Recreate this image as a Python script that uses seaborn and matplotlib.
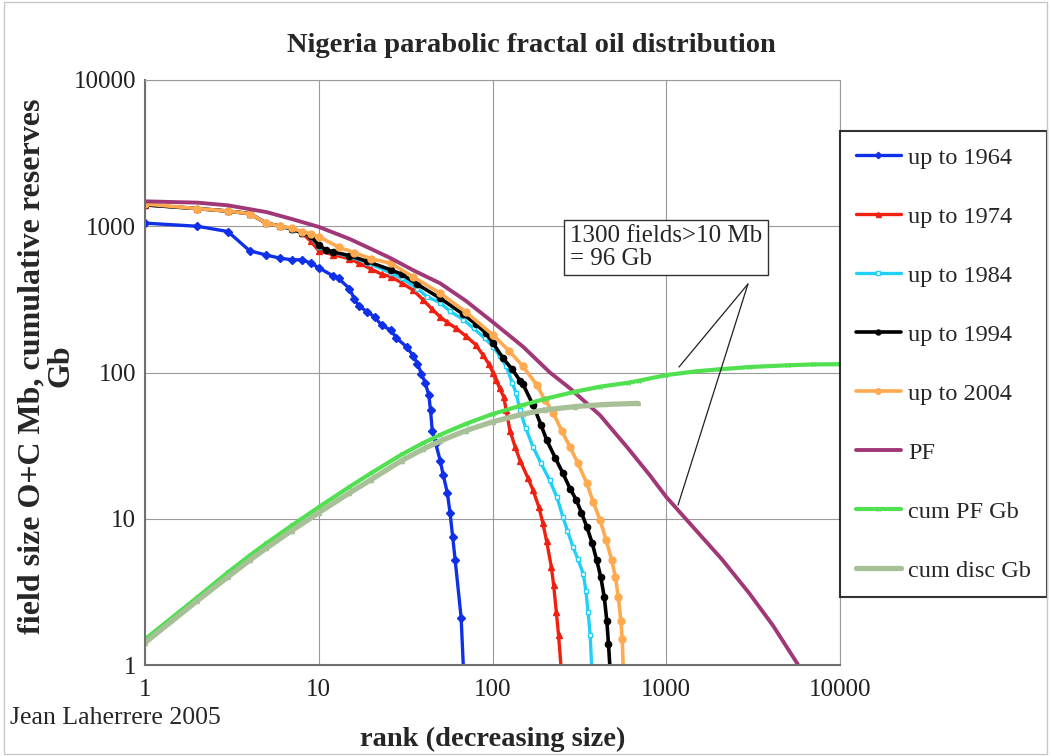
import matplotlib
matplotlib.use("Agg")
import matplotlib.pyplot as plt
import seaborn as sns
from matplotlib.ticker import FixedLocator, NullLocator, FixedFormatter
from matplotlib.patches import Rectangle

# ---------------- data ----------------
rank_1964 = [1, 2, 3, 4, 5, 6, 7, 8, 9, 10, 12, 13, 15, 16, 17, 19, 21, 23, 26, 28,
             32, 35, 37, 39, 41, 43, 44, 45, 47, 50, 52, 55, 57, 59, 61, 66, 68]
size_1964 = [1050, 1000, 920, 680, 635, 605, 590, 590, 560, 520, 460, 440, 375, 320,
             285, 260, 240, 210, 195, 172, 150, 130, 115, 98, 85, 70, 55, 40, 33, 25,
             20, 15, 10.9, 7.5, 5.2, 2.1, 0.95]

rank_1974 = [1, 2, 3, 4, 5, 6, 7, 8, 9, 10, 12, 15, 17, 20, 23, 26, 30, 35, 40, 45,
             50, 55, 62, 70, 80, 88, 95, 101, 105, 110, 116, 120, 126, 135, 144, 160,
             171, 185, 195, 205, 218, 225, 233, 240, 248]
size_1974 = [1400, 1320, 1270, 1220, 1050, 1000, 960, 900, 790, 680, 640, 600, 560,
             510, 470, 452, 410, 365, 313, 270, 240, 220, 200, 178, 155, 132, 115, 99,
             89, 78, 68, 55, 40, 31, 25, 19, 15.7, 12, 9.3, 7, 4.7, 3.5, 2.3, 1.6, 0.97]

rank_1984 = [1, 2, 3, 4, 5, 6, 7, 8, 9, 10, 12, 15, 19, 26, 30, 37, 42, 50, 57, 68,
             78, 90, 101, 110, 120, 130, 137, 144, 155, 171, 190, 213, 235, 254, 270,
             290, 310, 333, 345, 355, 365, 372]
size_1984 = [1400, 1320, 1270, 1220, 1050, 1000, 950, 900, 850, 720, 665, 620, 565,
             480, 440, 375, 330, 300, 262, 230, 200, 172, 150, 130, 110, 85, 72, 55,
             42, 31, 24, 18.4, 14, 10.3, 8.3, 6.45, 5.3, 4.2, 3.2, 2.3, 1.6, 0.97]

rank_1994 = [1, 2, 3, 4, 5, 6, 7, 8, 9, 10, 11, 12, 15, 19, 26, 30, 37, 50, 68, 80,
             92, 101, 115, 130, 144, 150, 171, 190, 205, 230, 254, 280, 304, 325, 349,
             375, 398, 420, 440, 455, 465, 474]
size_1994 = [1400, 1320, 1270, 1220, 1050, 1000, 960, 900, 860, 740, 690, 670, 630,
             575, 503, 470, 400, 322, 250, 215, 185, 158, 125, 105, 88, 83, 60, 44,
             34.5, 26, 20.5, 16, 13.4, 11, 8.8, 6.8, 5.2, 4.0, 2.9, 2.0, 1.4, 0.97]

rank_2004 = [1, 2, 3, 4, 5, 6, 7, 8, 9, 10, 13, 16, 20, 26, 35, 50, 70, 101, 125,
             150, 180, 200, 224, 250, 279, 310, 349, 380, 416, 450, 486, 510, 530,
             548, 558, 565]
size_2004 = [1420, 1320, 1270, 1220, 1050, 1000, 970, 920, 890, 850, 720, 660, 600,
             558, 450, 348, 260, 180, 140, 110, 82, 65, 53, 40, 31, 24, 17.5, 13, 9.8,
             7.2, 5.2, 4.0, 2.9, 2.0, 1.5, 0.97]

rank_pf = [1, 2, 3, 5, 7, 10, 15, 20, 26, 35, 50, 70, 100, 150, 214, 279, 416, 600,
           800, 1000, 1400, 2085, 3000, 4115, 5750, 6500]
size_pf = [1480, 1450, 1390, 1250, 1120, 990, 820, 700, 604, 500, 407, 310, 222, 150,
           100, 78, 51, 30.5, 20, 14.1, 9.0, 5.3, 3.1, 1.86, 1.0, 0.78]

rank_cumpf = [1, 2, 3, 4, 5, 7, 10, 15, 20, 30, 40, 50, 70, 100, 150, 200, 300, 416,
              600, 700, 1000, 1500, 2000, 3000, 5000, 7000, 10000]
gb_cumpf = [1.5, 2.9, 4.3, 5.6, 6.8, 9.0, 12, 16.5, 20.5, 27.5, 33, 37.5, 44.5, 52,
            60, 66, 74, 80, 85, 88, 96, 102, 105, 109, 112, 113.5, 114]

rank_cumdisc = [1, 2, 3, 4, 5, 7, 10, 15, 20, 30, 40, 50, 70, 100, 150, 200, 300,
                450, 690]
gb_cumdisc = [1.42, 2.75, 4.0, 5.2, 6.3, 8.3, 11, 15, 18.5, 25, 30, 34, 40, 46, 52,
              55.5, 58.5, 60.5, 61.5]

labels = ["up to 1964", "up to 1974", "up to 1984", "up to 1994", "up to 2004",
          "PF", "cum PF Gb", "cum disc Gb"]
colors = ["#1030E8", "#F02010", "#20D0F8", "#000000", "#FFAA50", "#A03878",
          "#50E050", "#A8C098"]
tick_vals = [1, 10, 100, 1000, 10000]
tick_labels = ["1", "10", "100", "1000", "10000"]

# ---------------- figure ----------------
sns.set_theme(style="white")
plt.rcParams["font.family"] = ["Liberation Serif", "DejaVu Serif"]

fig = plt.figure(figsize=(10.51, 7.56), dpi=100)
ax = fig.add_axes([145 / 1051, 1 - 665 / 756, 695 / 1051, 585 / 756])

series = [
    (rank_1964, size_1964, "D", 4.0, 2.4, {}),
    (rank_1974, size_1974, "^", 4.5, 2.4, {}),
    (rank_1984, size_1984, "s", 3.5, 2.4, {"markerfacecolor": "white"}),
    (rank_1994, size_1994, "o", 4.5, 2.6, {}),
    (rank_2004, size_2004, "o", 5.0, 2.6, {}),
    (rank_pf, size_pf, None, 0, 2.8, {}),
    (rank_cumpf, gb_cumpf, "x", 3.5, 3.0, {}),
    (rank_cumdisc, gb_cumdisc, "^", 3.0, 3.8, {}),
]

for (xs, ys, mk, ms, lw, extra), lab, col in zip(series, labels, colors):
    kw = dict(x=xs, y=ys, ax=ax, color=col, linewidth=lw, label=lab,
              sort=False, estimator=None)
    if mk is not None:
        kw.update(marker=mk, markersize=ms, markeredgecolor=col, markeredgewidth=1.0)
        kw.update(extra)
    sns.lineplot(**kw)

ax.set_xscale("log")
ax.set_yscale("log")
ax.set_xlim(1, 10000)
ax.set_ylim(1, 10000)
for axis in (ax.xaxis, ax.yaxis):
    axis.set_major_locator(FixedLocator(tick_vals))
    axis.set_major_formatter(FixedFormatter(tick_labels))
    axis.set_minor_locator(NullLocator())

ax.grid(True, which="major", color="#9a9a9a", linewidth=0.8)
ax.set_axisbelow(True)
for side in ("left", "bottom"):
    ax.spines[side].set_color("#707070")
    ax.spines[side].set_linewidth(1.5)
for side in ("top", "right"):
    ax.spines[side].set_color("#9a9a9a")
    ax.spines[side].set_linewidth(0.8)
ax.tick_params(axis="both", which="major", direction="out", length=4, width=1,
               color="#707070", labelsize=18, labelcolor="#202020")
ax.tick_params(axis="y", pad=2.5)
ax.tick_params(axis="x", pad=6)

ax.set_xlabel("rank (decreasing size)", fontsize=20.5, fontweight="bold")
ax.xaxis.set_label_coords(0.5007, -0.105)
ax.set_ylabel("field size O+C Mb, cumulative reserves\nGb", fontsize=23,
              fontweight="bold", linespacing=1.02)
ax.yaxis.set_label_coords(-0.100, 0.511)

fig.suptitle("Nigeria parabolic fractal oil distribution", x=531 / 1051,
             y=1 - 45 / 756, va="center", fontsize=20.5, fontweight="bold")
fig.text(10 / 1051, 1 - 718 / 756, "Jean Laherrere 2005", fontsize=18.5,
         ha="left", va="center")

# annotation
ax.text(279, 715, "1300 fields>10 Mb\n= 96 Gb", fontsize=18, ha="left",
        va="center", linespacing=1.05,
        bbox=dict(boxstyle="square,pad=0.22", facecolor="white",
                  edgecolor="#303030", linewidth=1.0))
for tgt in [(1184, 109), (1169, 12.4)]:
    ax.annotate("", xy=tgt, xytext=(2954, 403),
                arrowprops=dict(arrowstyle="-", color="#202020", lw=0.9,
                                shrinkA=0, shrinkB=0))

# legend
h, l = ax.get_legend_handles_labels()
leg = ax.legend(h, l, loc="upper left",
                bbox_to_anchor=(840 / 1051, 1 - 131 / 756),
                bbox_transform=fig.transFigure, borderaxespad=0,
                fontsize=17.5, frameon=True, fancybox=False, edgecolor="black",
                labelspacing=1.52, handlelength=1.85, handletextpad=0.3,
                borderpad=0.65, markerscale=0.8)
leg.get_frame().set_linewidth(1.5)

fig.patches.append(Rectangle((4 / 1051, 2 / 756), 1 - 8 / 1051, 1 - 4 / 756,
                             transform=fig.transFigure, fill=False,
                             edgecolor="#c8c8c8", linewidth=1.0))

fig.savefig("out.png", dpi=100)
